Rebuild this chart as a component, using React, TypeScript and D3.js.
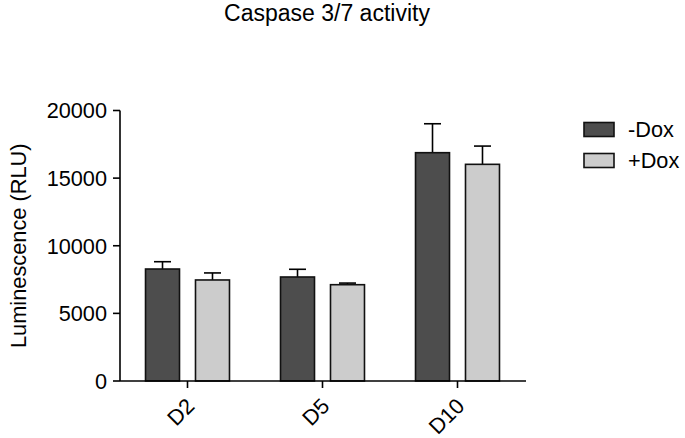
import React from "react";
import * as d3 from "d3";

const categories = ["D2", "D5", "D10"];
const seriesNames = ["-Dox", "+Dox"];
const minusDox = [8280, 7690, 16880];
const plusDox = [7470, 7120, 16020];
const minusDoxErr = [540, 570, 2140];
const plusDoxErr = [520, 120, 1350];
const yTicks = [0, 5000, 10000, 15000, 20000];
const colors = ["#4d4d4d", "#cccccc"];

const W = 685;
const H = 438;
const FONT = "'Liberation Sans', Arial, Helvetica, sans-serif";

export default function App() {
  const left = 120;
  const right = 525;
  const y = d3.scaleLinear().domain([0, 20000]).range([381, 110.5]);
  const x0 = d3
    .scaleBand<string>()
    .domain(categories)
    .range([left, right])
    .paddingInner(0.378)
    .paddingOuter(0.189);
  const x1 = d3
    .scaleBand<string>()
    .domain(seriesNames)
    .range([0, x0.bandwidth()])
    .paddingInner(0.32)
    .paddingOuter(0);
  const values = [minusDox, plusDox];
  const errs = [minusDoxErr, plusDoxErr];
  const capW = 17;

  return (
    <svg
      width={W}
      height={H}
      style={{ position: "absolute", left: 0, top: 0, background: "#fff" }}
      fontFamily={FONT}
    >
      <text x={327} y={21} fontSize={23} textAnchor="middle" fill="#000">
        Caspase 3/7 activity
      </text>

      {/* bars */}
      {categories.map((c, i) =>
        seriesNames.map((s, j) => {
          const bx = (x0(c) ?? 0) + (x1(s) ?? 0);
          const bw = x1.bandwidth();
          const v = values[j][i];
          const e = errs[j][i];
          const cx = bx + bw / 2;
          return (
            <g key={c + s}>
              <line x1={cx} x2={cx} y1={y(v)} y2={y(v + e)} stroke="#000" strokeWidth={1.6} />
              <line
                x1={cx - capW / 2}
                x2={cx + capW / 2}
                y1={y(v + e)}
                y2={y(v + e)}
                stroke="#000"
                strokeWidth={1.6}
              />
              <rect
                x={bx}
                y={y(v)}
                width={bw}
                height={y(0) - y(v)}
                fill={colors[j]}
                stroke="#111"
                strokeWidth={1.6}
              />
            </g>
          );
        })
      )}

      {/* y axis */}
      <line x1={left} x2={left} y1={y(20000)} y2={y(0)} stroke="#000" strokeWidth={1.6} />
      {yTicks.map((t) => (
        <g key={t}>
          <line x1={left - 7} x2={left} y1={y(t)} y2={y(t)} stroke="#000" strokeWidth={1.6} />
          <text x={left - 13} y={y(t)} dy="0.36em" fontSize={21.7} textAnchor="end" fill="#000">
            {t}
          </text>
        </g>
      ))}
      <text
        transform={`translate(26,${(y(0) + y(20000)) / 2}) rotate(-90)`}
        fontSize={21.8}
        textAnchor="middle"
        fill="#000"
      >
        Luminescence (RLU)
      </text>

      {/* x axis */}
      <line x1={left} x2={right + 1} y1={y(0)} y2={y(0)} stroke="#000" strokeWidth={1.6} />
      {categories.map((c) => {
        const cx = (x0(c) ?? 0) + x0.bandwidth() / 2;
        return (
          <g key={c}>
            <line x1={cx} x2={cx} y1={y(0)} y2={y(0) + 7} stroke="#000" strokeWidth={1.6} />
            <text
              transform={`translate(${cx + 3},${y(0) + 21}) rotate(-45)`}
              fontSize={21.7}
              textAnchor="end"
              dy="0.35em"
              fill="#000"
            >
              {c}
            </text>
          </g>
        );
      })}

      {/* legend */}
      {seriesNames.map((s, j) => (
        <g key={s} transform={`translate(584,${122.5 + j * 31})`}>
          <rect x={0} y={0} width={30} height={14} fill={colors[j]} stroke="#111" strokeWidth={1.6} />
          <text x={44} y={7} dy="0.36em" fontSize={21.7} fill="#000">
            {s}
          </text>
        </g>
      ))}
    </svg>
  );
}
